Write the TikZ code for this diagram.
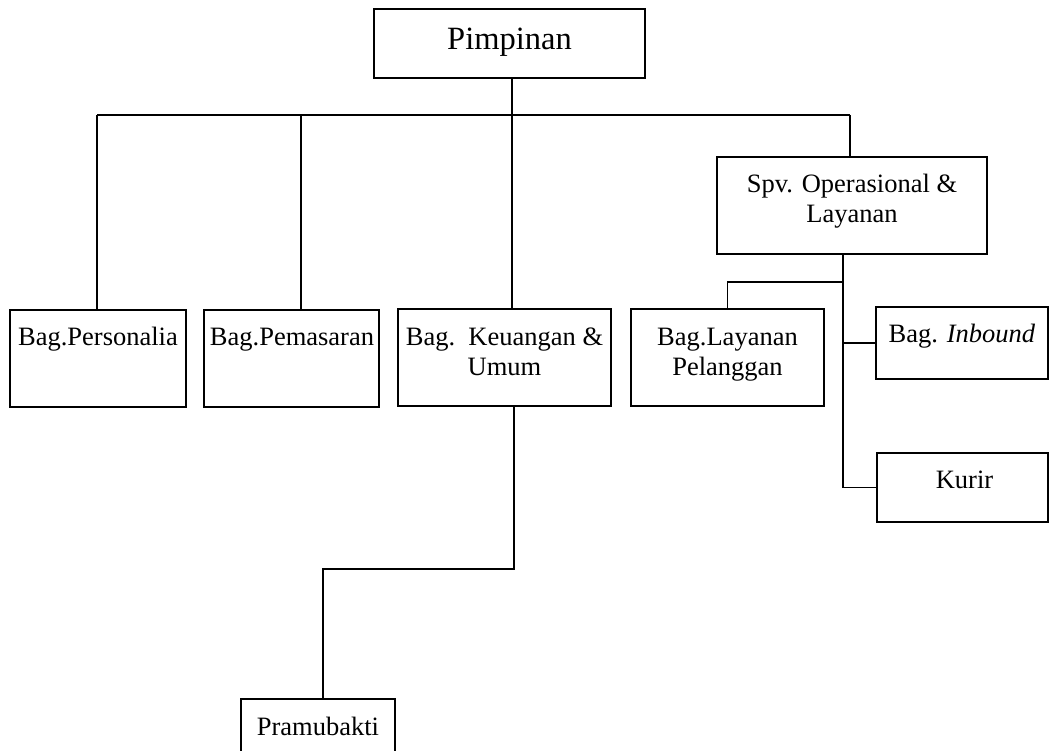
\documentclass[tikz,border=0pt]{standalone}
\usepackage{fontspec}
\setmainfont{Liberation Serif}
\begin{document}
\begin{tikzpicture}[x=1pt,y=-1pt,
  orgbox/.style={draw, line width=1.2pt, inner sep=0pt, rectangle},
  conn/.style={line width=1.2pt},
  lbl/.style={inner sep=0pt, anchor=base, align=center,
    font=\fontsize{26.5}{30}\selectfont},
  toplbl/.style={inner sep=0pt, anchor=base,
    font=\fontsize{32.5}{36}\selectfont}]
\clip (0,0) rectangle (1050,751);
\fill[white] (0,0) rectangle (1050,751);

% boxes: centre, width, height
\node[orgbox, minimum width=271pt, minimum height=69pt] (pimpinan) at (509.5,43.5) {};
\node[orgbox, minimum width=176pt, minimum height=97pt] (personalia) at (98,358.5) {};
\node[orgbox, minimum width=175pt, minimum height=97pt] (pemasaran) at (291.5,358.5) {};
\node[orgbox, minimum width=213pt, minimum height=97pt] (keuangan) at (504.5,357.5) {};
\node[orgbox, minimum width=270pt, minimum height=97pt] (spv) at (852,205.5) {};
\node[orgbox, minimum width=193pt, minimum height=97pt] (layanan) at (727.5,357.5) {};
\node[orgbox, minimum width=172pt, minimum height=72pt] (inbound) at (962,343) {};
\node[orgbox, minimum width=171pt, minimum height=69pt] (kurir) at (962.5,487.5) {};
\node[orgbox, minimum width=154pt, minimum height=62pt] (pramubakti) at (318,730) {};

% labels (the base anchor of a two-line label is its last line)
\node[toplbl] (t-pimpinan) at (509.5,50) {Pimpinan};
\node[lbl] (t-personalia) at (98,345) {Bag.Personalia};
\node[lbl] (t-pemasaran) at (292,345) {Bag.Pemasaran};
\node[lbl] (t-keuangan) at (504.5,375) {Bag.\ \ Keuangan \&\\Umum};
\node[lbl] (t-spv) at (852,223) {Spv. Operasional \&\\Layanan};
\node[lbl] (t-layanan) at (727.5,375) {Bag.Layanan\\Pelanggan};
\node[lbl] (t-inbound) at (962,343) {Bag. \textit{Inbound}};
\node[lbl] (t-kurir) at (964.5,488) {Kurir};
\node[lbl] (t-pramubakti) at (318,735) {Pramubakti};

% junctions
\coordinate (busL) at (97,115);
\coordinate (busP) at (301,115);
\coordinate (busK) at (512,115);
\coordinate (busR) at (850,115);
\coordinate (sv) at (843,282);
\coordinate (kd) at (514,569);
\coordinate (pd) at (323,569);

% connectors
\draw[conn] (busL) -- (busR);
\draw[conn] (busK |- pimpinan.south) -- (busK |- keuangan.north);
\draw[conn] (busL) -- (busL |- personalia.north);
\draw[conn] (busP) -- (busP |- pemasaran.north);
\draw[conn] (busR) -- (busR |- spv.north);
\draw[conn] (sv |- spv.south) -- (sv |- kurir.west) -- (kurir.west);
\draw[conn] (sv) -- (sv -| layanan.north) -- (layanan.north);
\draw[conn] (sv |- inbound.west) -- (inbound.west);
\draw[conn] (kd |- keuangan.south) -- (kd) -- (pd) -- (pd |- pramubakti.north);
\end{tikzpicture}
\end{document}
